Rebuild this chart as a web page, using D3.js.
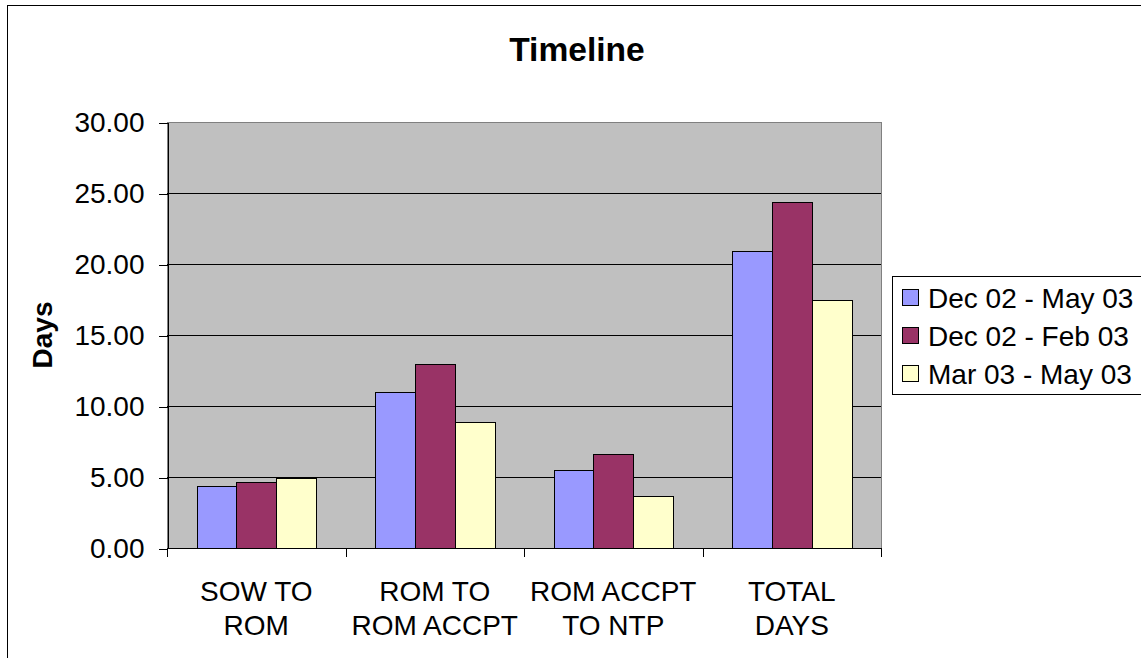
<!DOCTYPE html>
<html>
<head>
<meta charset="utf-8">
<title>Timeline</title>
<script src="https://cdn.jsdelivr.net/npm/d3@7"></script>
<style>
  body { margin: 0; background: #fff; }
  svg { display: block; font-family: "Liberation Sans", Arial, sans-serif; }
  .axis text { font-size: 28px; fill: #000; }
  .axis line, .axis path { stroke: #000; shape-rendering: crispEdges; }
</style>
</head>
<body>
<script>
// chart data
var categories = [["SOW TO", "ROM"], ["ROM TO", "ROM ACCPT"], ["ROM ACCPT", "TO NTP"], ["TOTAL", "DAYS"]];
var seriesNames = ["Dec 02 - May 03", "Dec 02 - Feb 03", "Mar 03 - May 03"];
var decToMay = [4.37, 11.01, 5.47, 20.94];
var decToFeb = [4.67, 12.94, 6.62, 24.37];
var marToMay = [4.95, 8.85, 3.64, 17.46];
var yTicks = [0, 5, 10, 15, 20, 25, 30];

var seriesValues = [decToMay, decToFeb, marToMay];
var colors = ["#9999FF", "#993366", "#FFFFCC"];

// canvas size
var canvasX = 1141;
var canvasY = 658;

// plot area
var plotLeft = 167;
var plotRight = 881;
var plotTop = 122;
var plotBottom = 548;

var svg = d3.select("body")
            .append("svg")
            .attr("width", canvasX)
            .attr("height", canvasY);

// outer chart frame
svg.append("rect")
    .attr("x", 7.5)
    .attr("y", 5.5)
    .attr("width", 1200)
    .attr("height", 700)
    .attr("fill", "#fff")
    .attr("stroke", "#000")
    .attr("stroke-width", 1);

// title
svg.append("text")
    .attr("x", 577)
    .attr("y", 61)
    .attr("text-anchor", "middle")
    .style("font-size", "33.6px")
    .style("font-weight", "bold")
    .text("Timeline");

// scales
var scaleX = d3.scaleBand()
               .domain(d3.range(categories.length))
               .range([plotLeft, plotRight])
               .paddingInner(0.336)
               .paddingOuter(0.168);

var scaleSeries = d3.scaleBand()
                    .domain(d3.range(seriesNames.length))
                    .range([0, scaleX.bandwidth()]);

var scaleY = d3.scaleLinear()
               .domain([0, 30])
               .range([plotBottom, plotTop]);

// grey plot background
svg.append("rect")
    .attr("x", plotLeft + 0.5)
    .attr("y", plotTop + 0.5)
    .attr("width", plotRight - plotLeft)
    .attr("height", plotBottom - plotTop)
    .attr("fill", "#C0C0C0")
    .attr("stroke", "#808080")
    .style("shape-rendering", "crispEdges");

// gridlines
svg.append("g")
    .selectAll("line")
    .data(yTicks.filter(function(d) { return d > 0 && d < 30; }))
    .enter()
    .append("line")
    .attr("x1", plotLeft)
    .attr("x2", plotRight)
    .attr("y1", function(d) { return Math.round(scaleY(d)) + 0.5; })
    .attr("y2", function(d) { return Math.round(scaleY(d)) + 0.5; })
    .attr("stroke", "#000")
    .style("shape-rendering", "crispEdges");

// bars
var groups = svg.append("g")
    .selectAll("g")
    .data(seriesValues)
    .enter()
    .append("g")
    .attr("fill", function(d, i) { return colors[i]; });

groups.each(function(values, s) {
    d3.select(this).selectAll("rect")
        .data(values)
        .enter()
        .append("rect")
        .attr("x", function(d, i) { return Math.round(scaleX(i) + scaleSeries(s)) + 0.5; })
        .attr("y", function(d) { return Math.round(scaleY(d)) + 0.5; })
        .attr("width", Math.round(scaleSeries.bandwidth()))
        .attr("height", function(d) { return plotBottom - Math.round(scaleY(d)); })
        .attr("stroke", "#000")
        .attr("stroke-width", 1)
        .style("shape-rendering", "crispEdges");
});

// y axis
var yAxis = d3.axisLeft(scaleY)
              .tickValues(yTicks)
              .tickFormat(d3.format(".2f"))
              .tickSize(9)
              .tickSizeOuter(0)
              .tickPadding(14);

svg.append("g")
    .attr("class", "axis")
    .attr("transform", "translate(" + (plotLeft + 0.5) + ",0.5)")
    .call(yAxis);

// x axis line and ticks at the category borders
var xAxis = svg.append("g").attr("class", "axis");

xAxis.append("line")
    .attr("x1", plotLeft)
    .attr("x2", plotRight + 1)
    .attr("y1", plotBottom + 0.5)
    .attr("y2", plotBottom + 0.5);

var borders = d3.range(categories.length + 1).map(function(i) {
    return plotLeft + i * scaleX.step();
});

xAxis.selectAll(".xtick")
    .data(borders)
    .enter()
    .append("line")
    .attr("class", "xtick")
    .attr("x1", function(d) { return Math.round(d) + 0.5; })
    .attr("x2", function(d) { return Math.round(d) + 0.5; })
    .attr("y1", plotBottom)
    .attr("y2", plotBottom + 9);

// category labels on two lines
var labels = xAxis.selectAll(".xlabel")
    .data(categories)
    .enter()
    .append("text")
    .attr("class", "xlabel")
    .attr("text-anchor", "middle")
    .attr("y", 601);

labels.selectAll("tspan")
    .data(function(d, i) {
        return d.map(function(t) { return { text: t, i: i }; });
    })
    .enter()
    .append("tspan")
    .attr("x", function(d) { return scaleX(d.i) + scaleX.bandwidth() / 2; })
    .attr("dy", function(d, j) { return j === 0 ? 0 : 34; })
    .text(function(d) { return d.text; });

// y label
svg.append("text")
    .attr("transform", "translate(52," + ((plotTop + plotBottom) / 2) + ") rotate(-90)")
    .attr("text-anchor", "middle")
    .style("font-size", "28px")
    .style("font-weight", "bold")
    .text("Days");

// legend
var legend = svg.append("g");

legend.append("rect")
    .attr("x", 892.5)
    .attr("y", 276.5)
    .attr("width", 300)
    .attr("height", 118)
    .attr("fill", "#fff")
    .attr("stroke", "#000")
    .style("shape-rendering", "crispEdges");

var items = legend.selectAll(".item")
    .data(seriesNames)
    .enter()
    .append("g")
    .attr("class", "item")
    .attr("transform", function(d, i) { return "translate(0," + (298 + i * 38) + ")"; });

items.append("rect")
    .attr("x", 902.5)
    .attr("y", -8.5)
    .attr("width", 16)
    .attr("height", 16)
    .attr("fill", function(d, i) { return colors[i]; })
    .attr("stroke", "#000")
    .style("shape-rendering", "crispEdges");

items.append("text")
    .attr("x", 928)
    .attr("y", 10)
    .style("font-size", "28px")
    .text(function(d) { return d; });
</script>
</body>
</html>
